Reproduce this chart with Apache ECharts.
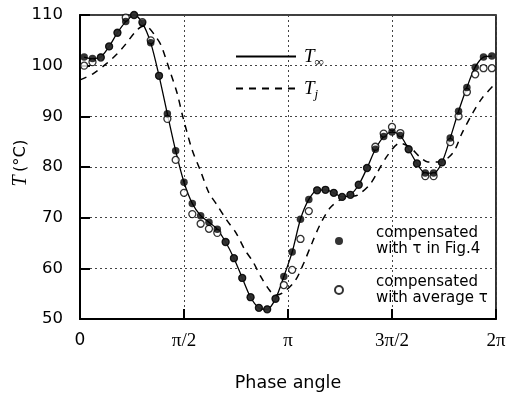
<!DOCTYPE html>
<html>
<head>
<meta charset="utf-8">
<script src="https://cdn.jsdelivr.net/npm/echarts@6/dist/echarts.min.js"></script>
<style>
  html, body { margin: 0; padding: 0; background: #fff; }
  #chart { width: 506px; height: 394px; }
</style>
</head>
<body>
<div id="chart"></div>
<script>
// Phase angle of each sample (degrees, 0..360 maps to 0..2π)
const phase = [3.6, 10.8, 18, 25.2, 32.4, 39.6, 46.8, 54, 61.2, 68.4,
  75.6, 82.8, 90, 97.2, 104.4, 111.6, 118.8, 126, 133.2, 140.4,
  147.6, 154.8, 162, 169.2, 176.4, 183.6, 190.8, 198, 205.2, 212.4,
  219.6, 226.8, 234, 241.2, 248.4, 255.6, 262.8, 270, 277.2, 284.4,
  291.6, 298.8, 306, 313.2, 320.4, 327.6, 334.8, 342, 349.2, 356.4];

// T∞ : compensated with τ from Fig.4 (°C)
const tInfFig4 = [101.7, 101.4, 101.7, 103.8, 106.5, 108.7, 110, 108.4, 104.5, 98,
  90.5, 83.2, 77, 72.8, 70.4, 69.1, 67.7, 65.2, 62, 58.1,
  54.3, 52.2, 51.9, 54, 58.4, 63.2, 69.7, 73.6, 75.4, 75.5,
  74.9, 74.1, 74.5, 76.5, 79.8, 83.5, 86, 86.9, 86.2, 83.5,
  80.7, 78.8, 78.8, 80.9, 85.7, 91, 95.7, 99.7, 101.7, 101.9];

// compensated with average τ (°C)
const tInfAvg = [100, 100.7, 101.6, 103.8, 106.5, 109.5, 110, 108.6, 105, 98,
  89.5, 81.4, 74.9, 70.7, 68.8, 67.8, 67, 65.2, 62, 58.1,
  54.3, 52.2, 51.9, 54, 56.7, 59.7, 65.8, 71.3, 75.4, 75.5,
  74.9, 74.1, 74.5, 76.5, 79.8, 84, 86.6, 87.9, 86.7, 83.5,
  80.7, 78.2, 78.2, 80.9, 84.9, 90, 94.8, 98.3, 99.5, 99.5];

// Tj : junction temperature
const tjPhase = [0, 11.2, 23.4, 32, 39, 47.6, 54.5, 59, 65, 70,
  78, 84, 89, 97, 104, 111.6, 118.6, 127, 135, 142.8,
  149.7, 156.6, 162.7, 168.7, 175, 186, 193, 200.8, 207.7, 216.3,
  225, 233.6, 240.6, 251, 258, 266.5, 277, 285.6, 294, 301,
  311.5, 322.8, 330.6, 340, 348, 360];
const tj = [97.2, 98.4, 100.5, 102.3, 104.1, 106.6, 107.8, 107.6, 105.9, 104.1,
  98.8, 94.6, 89.9, 83.4, 79.4, 74.9, 72.5, 69.5, 67, 63.6,
  61.3, 58.3, 56.1, 54.7, 55.1, 57.5, 60.7, 65, 68.6, 71.9,
  73.5, 74.1, 74.5, 76.6, 79.2, 82.4, 84.7, 83.9, 82, 81,
  81, 82.8, 86.7, 90.7, 93.6, 96.6];

// Tick labels on the phase axis
const phaseTicks = [0, 90, 180, 270, 360];
const phaseTickLabels = ['0', 'π/2', 'π', '3π/2', '2π'];

const zip = (xs, ys) => xs.map((x, i) => [x, ys[i]]);

const SANS = 'DejaVu Sans, Verdana, sans-serif';
const SERIF = 'Liberation Serif, Times New Roman, serif';

const chart = echarts.init(document.getElementById('chart'), null, { renderer: 'canvas' });

chart.setOption({
  animation: false,
  backgroundColor: '#fff',
  grid: {
    left: 80, right: 10, top: 15, bottom: 75,
    containLabel: false, outerBoundsMode: 'none',
    show: true, borderColor: '#000', borderWidth: 1.6, backgroundColor: 'transparent'
  },
  legend: [
    {
      data: ['T∞', 'Tj'],
      orient: 'vertical',
      left: 235, top: 47, padding: 0,
      itemWidth: 60, itemHeight: 10, itemGap: 10,
      itemStyle: { color: 'transparent', borderWidth: 0 },
      formatter: name => name === 'T∞' ? '{t|T}{s|∞}' : '{t|T}{s|j}',
      textStyle: {
        padding: [0, 0, 0, 3],
        rich: {
          t: { fontFamily: SERIF, fontStyle: 'italic', fontSize: 19, color: '#000' },
          s: { fontFamily: SERIF, fontStyle: 'italic', fontSize: 13, color: '#000', padding: [12, 0, 0, 0] }
        }
      }
    },
    {
      data: ['compensated\nwith τ in Fig.4', 'compensated\nwith average τ'],
      orient: 'vertical',
      left: 334, top: 217, padding: 0,
      itemWidth: 8, itemHeight: 8, itemGap: 1,
      icon: 'circle',
      textStyle: {
        fontFamily: SANS, fontSize: 15, color: '#000', lineHeight: 16,
        padding: [16, 0, 0, 28]
      }
    }
  ],
  xAxis: {
    type: 'value', min: 0, max: 360, interval: 90,
    name: 'Phase angle', nameLocation: 'middle', nameGap: 55,
    nameMoveOverlap: false,
    nameTextStyle: { fontFamily: SANS, fontSize: 17.5, color: '#000' },
    axisLine: { show: true, onZero: false, lineStyle: { color: '#000', width: 2 } },
    axisTick: { show: true, inside: true, length: 10, lineStyle: { color: '#000', width: 2 } },
    axisLabel: {
      margin: 13,
      formatter: v => {
        const i = phaseTicks.indexOf(v);
        const s = i >= 0 ? phaseTickLabels[i] : '';
        return v === 0 ? '{a|' + s + '}' : '{b|' + s + '}';
      },
      rich: {
        a: { fontFamily: SANS, fontSize: 17, color: '#000' },
        b: { fontFamily: SERIF, fontSize: 19, color: '#000' }
      }
    },
    splitLine: { show: true, lineStyle: { type: [2, 3], color: '#444', width: 1 } }
  },
  yAxis: {
    type: 'value', min: 50, max: 110, interval: 10,
    name: '{t|T} {u|(°C)}', nameLocation: 'middle', nameGap: 49, nameRotate: 90,
    nameMoveOverlap: false,
    nameTextStyle: {
      padding: [0, 0, 0, 8],
      rich: {
        t: { fontFamily: SERIF, fontStyle: 'italic', fontSize: 20, color: '#000' },
        u: { fontFamily: SANS, fontSize: 16.5, color: '#000' }
      }
    },
    axisLine: { show: true, lineStyle: { color: '#000', width: 2 } },
    axisTick: { show: true, inside: true, length: 10, lineStyle: { color: '#000', width: 2 } },
    axisLabel: { margin: 17, fontFamily: SANS, fontSize: 16.5, color: '#000' },
    splitLine: { show: true, lineStyle: { type: [2, 3], color: '#444', width: 1 } }
  },
  series: [
    {
      name: 'T∞', type: 'line', data: zip(phase, tInfFig4),
      smooth: 0.3, symbol: 'none', z: 3,
      lineStyle: { color: '#000', width: 1.3 }, itemStyle: { color: '#000' }
    },
    {
      name: 'Tj', type: 'line', data: zip(tjPhase, tj),
      smooth: 0.3, symbol: 'none', z: 2,
      lineStyle: { color: '#000', width: 1.5, type: [7, 6] }, itemStyle: { color: '#000' }
    },
    {
      name: 'compensated\nwith average τ', type: 'scatter', data: zip(phase, tInfAvg),
      symbol: 'circle', symbolSize: 7, z: 4,
      itemStyle: { color: '#fff', borderColor: '#000', borderWidth: 1.3 }
    },
    {
      name: 'compensated\nwith τ in Fig.4', type: 'scatter', data: zip(phase, tInfFig4),
      symbol: 'circle', symbolSize: 7.5, z: 5,
      itemStyle: { color: '#000' }
    }
  ]
});
</script>
</body>
</html>
